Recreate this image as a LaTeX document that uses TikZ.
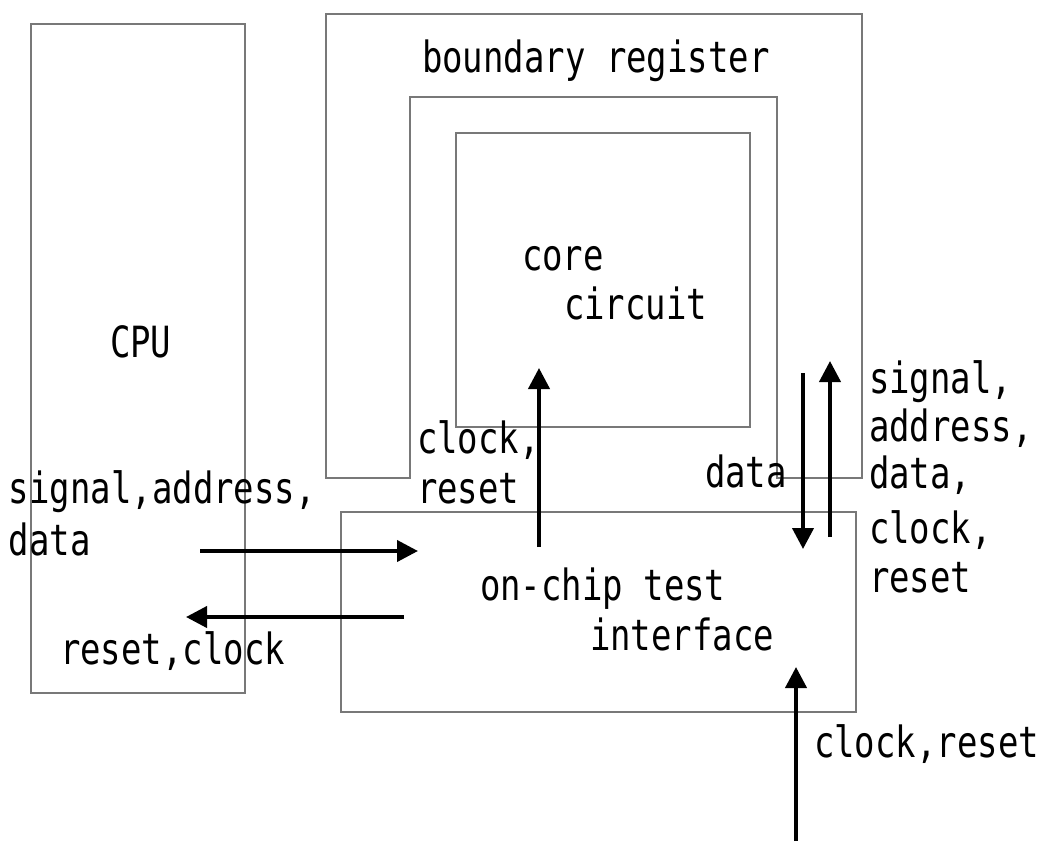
\documentclass[tikz,border=0pt]{standalone}
\usepackage{fontspec}
\newfontfamily\labelfamily{DejaVu Sans Mono}[FakeStretch=0.79]
\newcommand\labelfont{\labelfamily\fontsize{43}{49}\selectfont}
\usetikzlibrary{arrows.meta}
\definecolor{boxgray}{RGB}{120,120,120}
\begin{document}
\begin{tikzpicture}[x=1pt,y=-1pt,
  box/.style={draw=boxgray, line width=1.7pt, inner sep=0pt, outer sep=0pt},
  lbl/.style={anchor=base west, inner sep=0pt, outer sep=0pt, font=\labelfont},
  sig/.style={line width=4pt, draw=black, -{Triangle[length=21pt,width=21pt]}}]
\useasboundingbox (0,0) rectangle (1048,841);

% blocks
\node[box, minimum width=214pt, minimum height=669pt] (cpu) at (138,358.5) {};
\node[box, minimum width=294pt, minimum height=294pt] (core) at (603,280) {};
\node[box, minimum width=515pt, minimum height=200pt] (iface) at (598.5,612) {};

% boundary register ring, open at the bottom
\coordinate (br1) at (326,14);
\coordinate (br2) at (862,14);
\coordinate (br3) at (862,478);
\coordinate (br4) at (777,478);
\coordinate (br5) at (777,97);
\coordinate (br6) at (410,97);
\coordinate (br7) at (410,478);
\coordinate (br8) at (326,478);
\draw[box, line join=miter] (br1) -- (br2) -- (br3) -- (br4) -- (br5) -- (br6) -- (br7) -- (br8) -- cycle;

% labels
\node[lbl] (tbr) at (422,72) {boundary register};
\node[lbl] (tcore) at (522,270) {core};
\node[lbl] (tcirc) at (564,319) {circuit};
\node[lbl] (tcpu) at (110,357) {CPU};
\node[lbl] (tclk1) at (417,453) {clock,};
\node[lbl] (trst1) at (417,503) {reset};
\node[lbl] (tsad1) at (9,503) {signal,address,};
\node[lbl] (tsad2) at (9,555) {data};
\node[lbl] (trc) at (60,664) {reset,clock};
\node[lbl] (tdata) at (705,487) {data};
\node[lbl] (tr1) at (869,393) {signal,};
\node[lbl] (tr2) at (869,441) {address,};
\node[lbl] (tr3) at (869,488) {data,};
\node[lbl] (tr4) at (869,543) {clock,};
\node[lbl] (tr5) at (869,592) {reset};
\node[lbl] (toc1) at (480,600) {on-chip test};
\node[lbl] (toc2) at (590,650) {interface};
\node[lbl] (tcr) at (814,757) {clock,reset};

% signal arrow end points
\coordinate (a1s) at (200,551);  \coordinate (a1e) at (418,551);
\coordinate (a2s) at (404,617);  \coordinate (a2e) at (186,617);
\coordinate (a3s) at (539,547);  \coordinate (a3e) at (539,368);
\coordinate (a4s) at (803,373);  \coordinate (a4e) at (803,549);
\coordinate (a5s) at (830,537);  \coordinate (a5e) at (830,361);
\coordinate (a6s) at (796,841);  \coordinate (a6e) at (796,667);

\draw[sig] (a1s) -- (a1e);
\draw[sig] (a2s) -- (a2e);
\draw[sig] (a3s) -- (a3e);
\draw[sig] (a4s) -- (a4e);
\draw[sig] (a5s) -- (a5e);
\draw[sig] (a6s) -- (a6e);
\end{tikzpicture}
\end{document}
